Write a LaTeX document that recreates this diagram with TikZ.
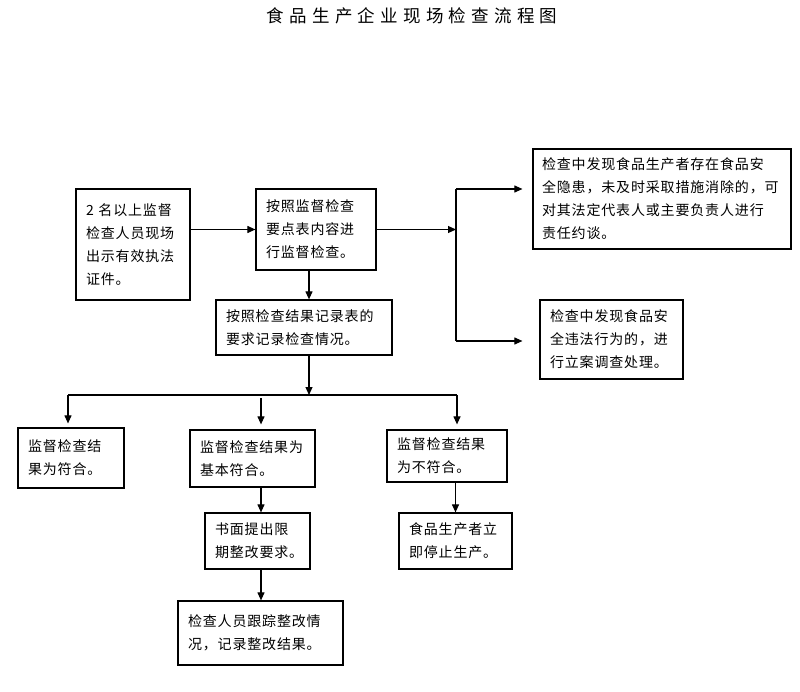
\documentclass[tikz,border=0pt]{standalone}
\usepackage{fontspec}
\usepackage{tikz}
\usetikzlibrary{arrows.meta,positioning}
\newfontfamily\cjk[LetterSpace=6]{Noto Sans CJK SC}
\newfontfamily\cjktitle[LetterSpace=30]{Noto Sans CJK SC}
\tikzset{
  flowbox/.style={draw=black,line width=1.2pt,fill=white,align=left,inner xsep=10pt,inner ysep=2pt,
    font=\cjk\fontsize{14}{23}\selectfont},
  flowline/.style={line width=1.1pt,draw=black},
  flowarrow/.style={flowline,-{Triangle[length=8pt,width=7pt]}}
}

\begin{document}
\begin{tikzpicture}[x=1pt,y=-1pt]
\useasboundingbox (0,0) rectangle (800,692);
\node[font=\cjktitle\fontsize{17.5}{20}\selectfont] (title) at (412,16) {食品生产企业现场检查流程图};
\node[flowbox,text width=94pt,minimum height=111pt] (A) at (133,244.5) {2 名以上监督\\检查人员现场\\出示有效执法\\证件。};
\node[flowbox,text width=100pt,minimum height=81pt] (B) at (316,229.5) {按照监督检查\\要点表内容进\\行监督检查。};
\node[flowbox,text width=156pt,minimum height=55pt] (C) at (304,327.5) {按照检查结果记录表的\\要求记录检查情况。};
\node[flowbox,text width=240pt,inner xsep=9pt,minimum height=100pt] (D) at (662,199) {检查中发现食品生产者存在食品安\\全隐患，未及时采取措施消除的，可\\对其法定代表人或主要负责人进行\\责任约谈。};
\node[flowbox,text width=123pt,minimum height=79pt] (E) at (611.5,339.5) {检查中发现食品安\\全违法行为的，进\\行立案调查处理。};
\node[flowbox,text width=86pt,minimum height=60pt] (F) at (71,458) {监督检查结\\果为符合。};
\node[flowbox,text width=105pt,minimum height=57pt] (G) at (252.5,458.5) {监督检查结果为\\基本符合。};
\node[flowbox,text width=100pt,minimum height=52pt] (H) at (447,456) {监督检查结果\\为不符合。};
\node[flowbox,text width=85pt,minimum height=56pt] (I) at (257.5,541) {书面提出限\\期整改要求。};
\node[flowbox,text width=145pt,minimum height=64pt] (J) at (260.5,633) {检查人员跟踪整改情\\况，记录整改结果。};
\node[flowbox,text width=93pt,minimum height=56pt] (K) at (455.5,541) {食品生产者立\\即停止生产。};
\coordinate (jn) at (456,229.5);
\coordinate (jt) at (456,189);
\coordinate (jb) at (456,341);
\coordinate (bc) at (309,0);
\coordinate (bus) at (309,395);
\coordinate (busL) at (68,395);
\coordinate (busR) at (457,395);
\coordinate (gm) at (261,398);
\draw[flowarrow] (A.east |- B.west) -- (B.west);
\draw[flowarrow] (B.east) -- (jn);
\draw[flowline] (jt) -- (jb);
\draw[flowarrow,shorten >=10pt] (jt) -- (jt -| D.west);
\draw[flowarrow,shorten >=17pt] (jb) -- (jb -| E.west);
\draw[flowarrow] (bc |- B.south) -- (bc |- C.north);
\draw[flowarrow] (bc |- C.south) -- (bus);
\draw[flowline] (busL) -- (busR);
\draw[flowarrow,shorten >=4pt] (busL) -- (busL |- F.north);
\draw[flowarrow,shorten >=5pt] (gm) -- (gm |- G.north);
\draw[flowarrow,shorten >=5pt] (busR) -- (busR |- H.north);
\draw[flowarrow] (gm |- G.south) -- (gm |- I.north);
\draw[flowarrow] (gm |- I.south) -- (gm |- J.north);
\draw[flowarrow] (K.north |- H.south) -- (K.north);
\end{tikzpicture}
\end{document}
